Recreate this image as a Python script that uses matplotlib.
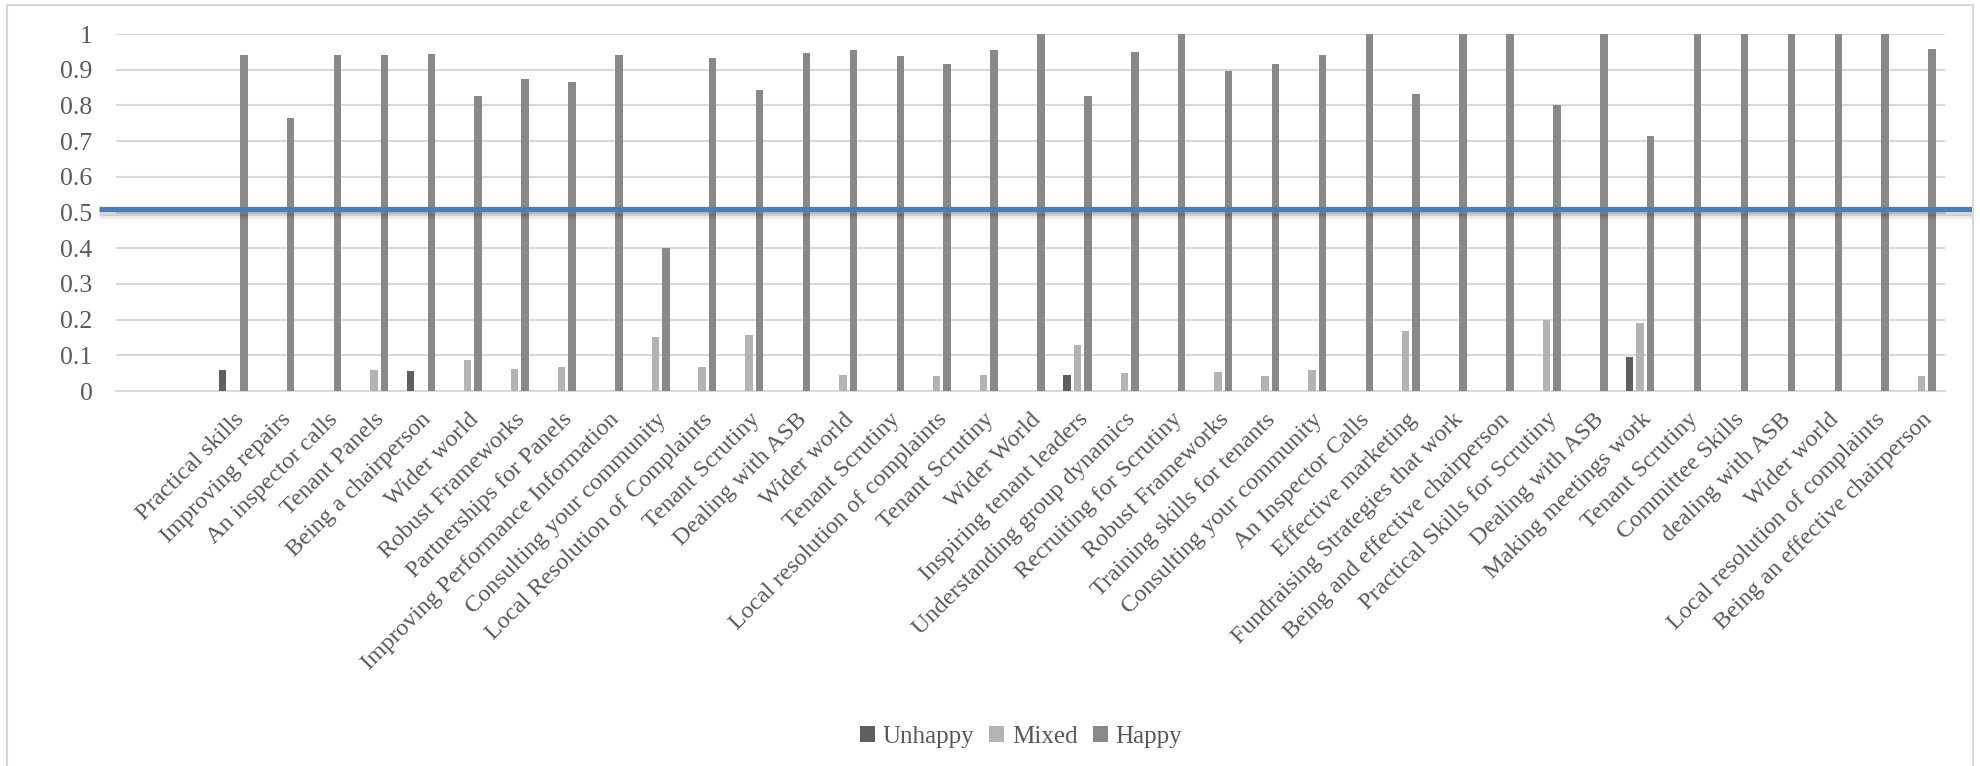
import matplotlib.pyplot as plt
import matplotlib.patheffects as pe
from matplotlib.patches import Rectangle
from matplotlib.transforms import blended_transform_factory
import numpy as np

# course names along the x axis
courses = [
    "Practical skills", "Improving repairs", "An inspector calls", "Tenant Panels",
    "Being a chairperson", "Wider world", "Robust Frameworks", "Partnerships for Panels",
    "Improving Performance Information", "Consulting your community",
    "Local Resolution of Complaints", "Tenant Scrutiny", "Dealing with ASB", "Wider world",
    "Tenant Scrutiny", "Local resolution of complaints", "Tenant Scrutiny", "Wider World",
    "Inspiring tenant leaders", "Understanding group dynamics", "Recruiting for Scrutiny",
    "Robust Frameworks", "Training skills for tenants", "Consulting your community",
    "An Inspector Calls", "Effective marketing", "Fundraising Strategies that work",
    "Being and effective chairperson", "Practical Skills for Scrutiny", "Dealing with ASB",
    "Making meetings work", "Tenant Scrutiny", "Committee Skills", "dealing with ASB",
    "Wider world", "Local resolution of complaints", "Being an effective chairperson",
]

# share of responses per course
unhappy = [0.06, 0, 0, 0, 0.056, 0, 0, 0, 0, 0,
           0, 0, 0, 0, 0, 0, 0, 0, 0.044, 0,
           0, 0, 0, 0, 0, 0, 0, 0, 0, 0,
           0.095, 0, 0, 0, 0, 0, 0]
mixed = [0, 0, 0, 0.06, 0, 0.087, 0.063, 0.067, 0, 0.151,
         0.067, 0.158, 0, 0.044, 0, 0.042, 0.044, 0, 0.13, 0.05,
         0, 0.053, 0.042, 0.06, 0, 0.167, 0, 0, 0.2, 0,
         0.19, 0, 0, 0, 0, 0, 0.042]
happy = [0.94, 0.764, 0.94, 0.94, 0.944, 0.826, 0.875, 0.866, 0.94, 0.40,
         0.933, 0.842, 0.948, 0.956, 0.937, 0.916, 0.956, 1.0, 0.826, 0.949,
         1.0, 0.895, 0.916, 0.94, 1.0, 0.832, 1.0, 1.0, 0.80, 1.0,
         0.714, 1.0, 1.0, 1.0, 1.0, 1.0, 0.957]

# target line
target = 0.51

yticks = [0, 0.1, 0.2, 0.3, 0.4, 0.5, 0.6, 0.7, 0.8, 0.9, 1]
ytick_labels = ["0", "0.1", "0.2", "0.3", "0.4", "0.5", "0.6", "0.7", "0.8", "0.9", "1"]

plt.rcParams['font.family'] = ['Liberation Serif', 'DejaVu Serif']
text_col = "#595959"
grid_col = "#d9d9d9"

fig = plt.figure(figsize=(19.8, 7.66), dpi=100)
ax = fig.add_axes([116 / 1980, 1 - 391 / 766, (1945 - 116) / 1980, (391 - 34) / 766])

x = np.arange(len(courses))
step = 0.224
w = 0.16
ax.bar(x - step, unhappy, w, color="#5f5f5f", label="Unhappy", zorder=3)
ax.bar(x, mixed, w, color="#b3b3b3", label="Mixed", zorder=3)
ax.bar(x + step, happy, w, color="#898989", label="Happy", zorder=3)

ax.set_xlim(-2.5, len(courses) - 0.5)
ax.set_ylim(0, 1)
ax.set_yticks(yticks)
ax.set_yticklabels(ytick_labels, fontsize=18.5, color=text_col)
ax.set_xticks(x)
ax.set_xticklabels(courses, rotation=45, ha="right", va="top",
                   rotation_mode="anchor", fontsize=17.5, color=text_col)
ax.tick_params(axis="both", length=0)
ax.tick_params(axis="y", pad=17)
ax.tick_params(axis="x", pad=13)
ax.grid(axis="y", color=grid_col, linewidth=1.5, zorder=0)
for s in ["top", "right", "left"]:
    ax.spines[s].set_visible(False)
ax.spines["bottom"].set_color(grid_col)
ax.spines["bottom"].set_linewidth(1.5)

# target line running across the whole chart, with a soft shadow
trans = blended_transform_factory(fig.transFigure, ax.transData)
ax.plot([99 / 1980, 1973 / 1980], [target, target], transform=trans,
        color="#4a7ebb", linewidth=3.8, clip_on=False, zorder=5,
        solid_capstyle="butt",
        path_effects=[pe.SimpleLineShadow(offset=(0, -3), shadow_color="black", alpha=0.12),
                      pe.SimpleLineShadow(offset=(0, -5), shadow_color="black", alpha=0.07),
                      pe.Normal()])

ax.legend(loc="center", bbox_to_anchor=(1021 / 1980, 1 - 737 / 766),
          bbox_transform=fig.transFigure, ncol=3, frameon=False,
          fontsize=18, labelcolor=text_col, handlelength=0.6, handleheight=0.6,
          handletextpad=0.3, columnspacing=0.6)

# chart border
fig.patches.append(Rectangle((7 / 1980, -0.1), (1973 - 7) / 1980, 1.1 - 5 / 766,
                             transform=fig.transFigure, fill=False,
                             edgecolor=grid_col, linewidth=1.5))

fig.savefig("out.png", dpi=100)
